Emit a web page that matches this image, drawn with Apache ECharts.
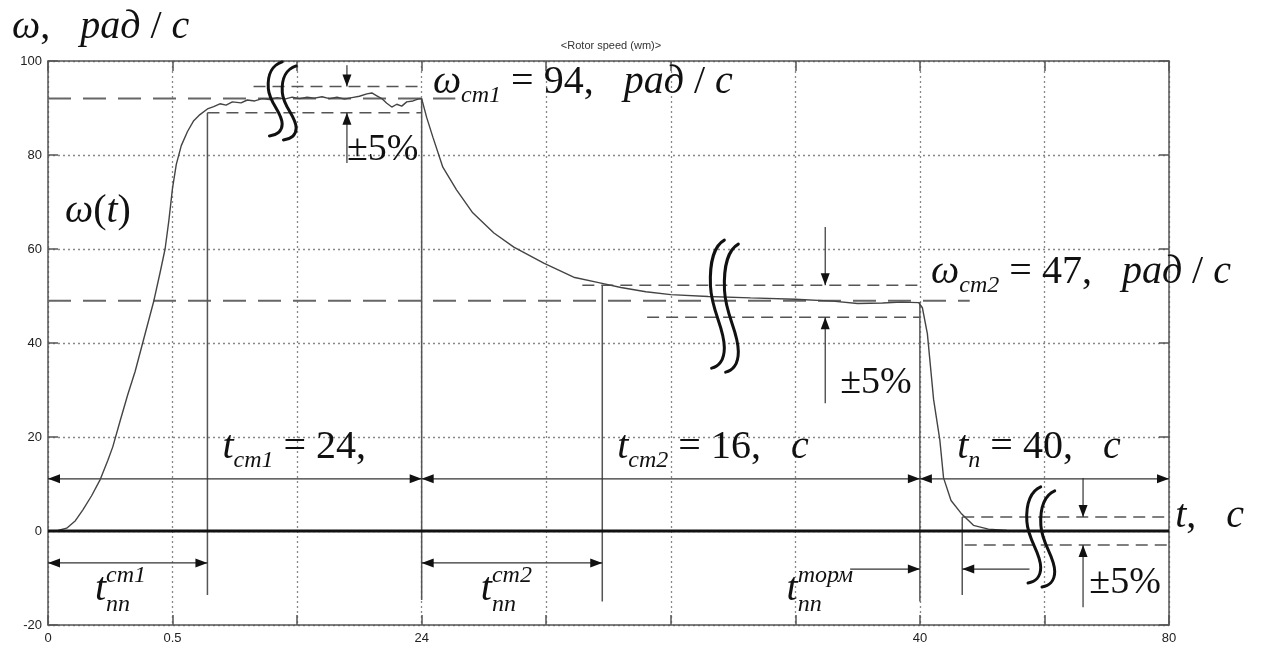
<!DOCTYPE html>
<html><head><meta charset="utf-8">
<script src="https://cdn.jsdelivr.net/npm/echarts@6/dist/echarts.min.js"></script>
<style>html,body{margin:0;padding:0;background:#fff}#c{width:1261px;height:647px}</style>
</head><body><div id="c"></div>
<script>
// ---- data (x is the position on the broken time axis; ticks labelled below) ----
const xTickLabels = ['0','0.5','','24','','','','40','','80'];
const yTicks = [-20, 0, 20, 40, 60, 80, 100];
const tPos = [0,0.08,0.15,0.22,0.28,0.35,0.42,0.48,0.52,0.58,0.64,0.70,0.76,0.80,0.85,0.90,0.94,0.97,1.00,1.03,1.07,1.12,1.17,1.22,1.28,1.33,1.38,1.43,1.48,1.55,1.60,1.66,1.72,1.78,1.84,1.90,1.96,2.02,2.08,2.14,2.20,2.26,2.32,2.38,2.44,2.50,2.56,2.60,2.64,2.68,2.72,2.76,2.80,2.84,2.88,2.93,2.97,3.00,3.04,3.09,3.17,3.28,3.41,3.58,3.74,3.98,4.22,4.43,4.60,4.80,5.00,5.30,5.64,6.00,6.30,6.50,6.70,6.85,6.99,7.02,7.06,7.11,7.16,7.19,7.25,7.33,7.43,7.55,7.70];
const omega = [0,0.1,0.6,2.2,4.5,7.5,11,15,17.9,23.5,29,34,40,44,49,55,60,66,73,78,82,85,87.3,88.6,89.8,90.3,90.9,90.6,91.3,91.1,91.7,91.5,92.0,91.8,92.2,91.9,92.3,92.0,92.3,92.1,92.4,92.0,92.3,91.9,92.2,92.5,93.0,93.2,92.6,92.0,91.0,90.2,90.8,90.4,91.3,91.5,91.9,92.0,88,83.8,77.4,72.6,67.7,63.4,60.4,57.0,54.0,52.8,51.8,50.9,50.3,49.9,49.6,49.3,48.9,48.4,48.5,48.7,48.6,47.5,42,28,19.4,11.3,6.5,3.8,1.2,0.4,0.1];

// annotation geometry in data units
const zeroLine = [[0, 9, 0]];
const refLevels = [[0, 3.27, 92], [0, 7.40, 49]];
const tolLines = [[1.65, 3.0, 94.6], [1.28, 3.0, 89], [4.29, 7.0, 52.3], [4.81, 7.0, 45.5], [7.34, 9, 3], [7.36, 9, -3]];
const markerLines = [[1.28, 89, -13.6], [3.0, 92, -14.7], [4.45, 52.3, -15], [7.0, 48.7, -15], [7.34, 3, -13.6]];
const spanArrows = [[0, 3, 11.1], [3, 7, 11.1], [7, 9, 11.1], [0, 1.28, -6.8], [3, 4.45, -6.8]];
const pointerArrows = [[6.44,-8.1,7.0,-8.1],[7.88,-8.1,7.34,-8.1],[2.40,99.1,2.40,94.6],[2.40,78.3,2.40,89],[6.24,64.7,6.24,52.3],[6.24,27.2,6.24,45.5],[8.31,11.3,8.31,3],[8.31,-16.2,8.31,-3]];
const breaks = [[1.88, 99.8, 83.2], [5.43, 61.9, 33.8], [7.97, 9.4, -11.9]];

const noteAnchors = [[-0.289,104.9],[3.09,93.2],[0.136,65.7],[7.09,52.8],[1.40,15.5],[4.57,15.5],[7.30,15.5],[9.05,0.85],[0.377,-14.7],[3.475,-14.7],[5.93,-14.7],[2.40,78.9],[6.36,29.4],[8.36,-13.2]];
const noteTexts = [
  [['ω','i'],[',   ','r'],['рад','i'],[' / ','r'],['с','i']],
  [['ω','i'],['ст1','s'],[' = 94,   ','r'],['рад','i'],[' / ','r'],['с','i']],
  [['ω','i'],['(','r'],['t','i'],[')','r']],
  [['ω','i'],['ст2','s'],[' = 47,   ','r'],['рад','i'],[' / ','r'],['с','i']],
  [['t','i'],['ст1','s'],[' = 24,','r']],
  [['t','i'],['ст2','s'],[' = 16,   ','r'],['с','i']],
  [['t','i'],['п','s'],[' = 40,   ','r'],['с','i']],
  [['t','i'],[',   ','r'],['с','i']],
  [['t','i'],['пп','b'],['ст1','p']],
  [['t','i'],['пп','b'],['ст2','p']],
  [['t','i'],['пп','b'],['торм','p']],
  [['±5%','R']],
  [['±5%','R']],
  [['±5%','R']]
];

// ---- helpers ----
const SERIF = '"Liberation Serif", "Times New Roman", serif';
const mctx = document.createElement('canvas').getContext('2d');
function fontStr(st, sz) { return st + ' ' + sz + 'px ' + SERIF; }
function measure(t, st, sz) { mctx.font = fontStr(st, sz); mctx.textBaseline = 'alphabetic'; return mctx.measureText(t).width; }
const midCache = {};
function midOff(st, sz) {
  const k = st + sz; if (midCache[k] != null) return midCache[k];
  mctx.font = fontStr(st, sz);
  mctx.textBaseline = 'alphabetic'; const a = mctx.measureText('x').fontBoundingBoxAscent;
  mctx.textBaseline = 'middle'; const b = mctx.measureText('x').fontBoundingBoxAscent;
  mctx.textBaseline = 'alphabetic';
  let v = (typeof a === 'number' && typeof b === 'number' && !isNaN(a - b)) ? a - b : 0.34 * sz;
  midCache[k] = v; return v;
}
function arrowHead(tip, from, len, hw) {
  const dx = tip[0] - from[0], dy = tip[1] - from[1];
  const d = Math.hypot(dx, dy) || 1, ux = dx / d, uy = dy / d;
  const bx = tip[0] - ux * len, by = tip[1] - uy * len;
  return { type: 'polygon', shape: { points: [[tip[0], tip[1]], [bx - uy * hw, by + ux * hw], [bx + uy * hw, by - ux * hw]] }, style: { fill: '#111' } };
}
function segSeries(name, segs, style, heads, z) {
  return {
    type: 'custom', name, coordinateSystem: 'cartesian2d', silent: true, z, clip: false,
    data: segs, encode: { x: [0, 2], y: [1, 3] },
    renderItem: (params, api) => {
      const p1 = api.coord([api.value(0), api.value(1)]);
      const p2 = api.coord([api.value(2), api.value(3)]);
      const kids = [{ type: 'line', shape: { x1: p1[0], y1: p1[1], x2: p2[0], y2: p2[1] }, style: Object.assign({ fill: null }, style) }];
      if (heads >= 1) kids.push(arrowHead(p2, p1, 12, 4.5));
      if (heads >= 2) kids.push(arrowHead(p1, p2, 12, 4.5));
      return { type: 'group', children: kids };
    }
  };
}
const hSeg = a => a.map(s => [s[0], s[2], s[1], s[2]]);
const vSeg = a => a.map(s => [s[0], s[1], s[0], s[2]]);

const BREAK_PATH = 'M13 0 C5 4 0 16 1 36 C2 56 13 68 13 84 C13 94 8 99 2 100';

const chart = echarts.init(document.getElementById('c'), null, { renderer: 'canvas' });
const axisCol = '#555';
const option = {
  animation: false,
  backgroundColor: '#fff',
  title: { text: '<Rotor speed (wm)>', left: 606, top: 35, textAlign: 'center',
    textStyle: { fontSize: 11, fontWeight: 'normal', color: '#333', fontFamily: '"Liberation Sans", Arial, sans-serif' } },
  grid: { left: 48, right: 92, top: 61, bottom: 22, containLabel: false },
  xAxis: [
    { type: 'value', min: 0, max: 9, interval: 1, position: 'bottom',
      axisLine: { show: true, onZero: false, lineStyle: { color: axisCol, width: 1.5 } },
      axisTick: { show: true, inside: true, length: 10, lineStyle: { color: axisCol, width: 1.5 } },
      axisLabel: { margin: 7, color: '#222', fontSize: 13, fontFamily: '"Liberation Sans", Arial, sans-serif',
        formatter: v => xTickLabels[Math.round(v)] || '' },
      splitLine: { show: true, lineStyle: { type: [2, 3], color: '#888', width: 1.3 } } },
    { type: 'value', min: 0, max: 9, interval: 1, position: 'top',
      axisLine: { show: true, onZero: false, lineStyle: { color: axisCol, width: 1.5 } },
      axisTick: { show: true, inside: true, length: 10, lineStyle: { color: axisCol, width: 1.5 } },
      axisLabel: { show: false }, splitLine: { show: false } }
  ],
  yAxis: [
    { type: 'value', min: yTicks[0], max: yTicks[yTicks.length - 1], interval: 20, position: 'left',
      axisLine: { show: true, onZero: false, lineStyle: { color: axisCol, width: 1.5 } },
      axisTick: { show: true, inside: true, length: 10, lineStyle: { color: axisCol, width: 1.5 } },
      axisLabel: { margin: 6, color: '#222', fontSize: 13, fontFamily: '"Liberation Sans", Arial, sans-serif' },
      splitLine: { show: true, lineStyle: { type: [2, 3], color: '#888', width: 1.3 } } },
    { type: 'value', min: yTicks[0], max: yTicks[yTicks.length - 1], interval: 20, position: 'right',
      axisLine: { show: true, onZero: false, lineStyle: { color: axisCol, width: 1.5 } },
      axisTick: { show: true, inside: true, length: 10, lineStyle: { color: axisCol, width: 1.5 } },
      axisLabel: { show: false }, splitLine: { show: false } }
  ],
  series: [
    segSeries('ref', hSeg(refLevels), { stroke: '#666', lineWidth: 2, lineDash: [23, 12] }, 0, 2),
    segSeries('tol', hSeg(tolLines), { stroke: '#555', lineWidth: 1.5, lineDash: [12, 7] }, 0, 2),
    segSeries('markers', vSeg(markerLines), { stroke: '#555', lineWidth: 1.5 }, 0, 2),
    segSeries('spans', hSeg(spanArrows), { stroke: '#333', lineWidth: 1.2 }, 2, 4),
    segSeries('pointers', pointerArrows, { stroke: '#333', lineWidth: 1.2 }, 1, 4),
    { type: 'line', name: 'ω(t)', data: tPos.map((t, i) => [t, omega[i]]), showSymbol: false, symbol: 'none',
      lineStyle: { color: '#444', width: 1.4 }, z: 5, silent: true },
    segSeries('zero', hSeg(zeroLine), { stroke: '#111', lineWidth: 3 }, 0, 6),
    { type: 'custom', name: 'breaks', coordinateSystem: 'cartesian2d', silent: true, z: 7, clip: false,
      data: breaks, encode: { x: 0, y: [1, 2] },
      renderItem: (params, api) => {
        const top = api.coord([api.value(0), api.value(1)]);
        const bot = api.coord([api.value(0), api.value(2)]);
        const h = bot[1] - top[1];
        const kids = [-1, 1].map(s => ({ type: 'path',
          shape: { pathData: BREAK_PATH, x: top[0] + s * 7 - 7, y: top[1] + (s > 0 ? 4 : 0), width: 14, height: h - 4, layout: 'cover' },
          style: { stroke: '#111', lineWidth: 3, fill: null, lineCap: 'round' } }));
        return { type: 'group', children: kids };
      } },
    { type: 'custom', name: 'notes', coordinateSystem: 'cartesian2d', silent: true, z: 8, clip: false,
      data: noteAnchors.map((a, i) => [a[0], a[1], i]), encode: { x: 0, y: 1 },
      renderItem: (params, api) => {
        const idx = api.value(2);
        const base = api.coord([api.value(0), api.value(1)]);
        let x = base[0], subStart = x;
        const kids = [];
        noteTexts[idx].forEach(([txt, kind]) => {
          let st = 'italic', sz = 40, dy = 0;
          if (kind === 'r') st = 'normal';
          if (kind === 'R') { st = 'normal'; sz = 38; }
          if (kind === 's') { sz = 24; dy = 9; subStart = x; }
          if (kind === 'b') { sz = 24; dy = 11; subStart = x; }
          if (kind === 'p') { sz = 24; dy = -18; x = subStart; }
          const w = measure(txt, st, sz);
          kids.push({ type: 'text', x: x, y: base[1] + dy - midOff(st, sz),
            style: { text: txt, font: fontStr(st, sz), fill: '#111', align: 'left', verticalAlign: 'middle', textAlign: 'left', textVerticalAlign: 'middle' } });
          x += w;
        });
        return { type: 'group', children: kids };
      } }
  ]
};
chart.setOption(option);
</script>
</body></html>
